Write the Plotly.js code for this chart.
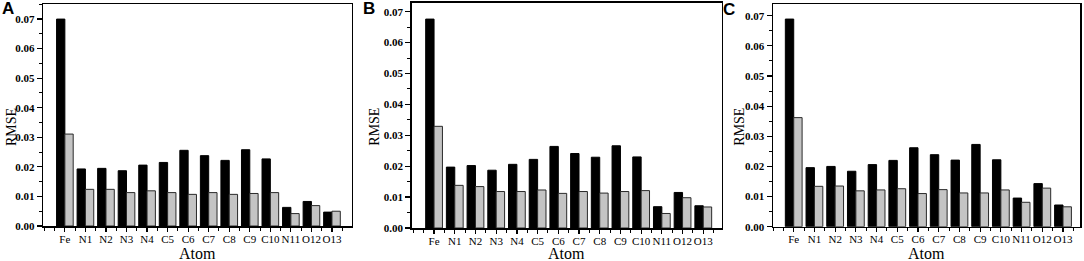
<!DOCTYPE html>
<html>
<head>
<meta charset="utf-8">
<script src="https://cdn.plot.ly/plotly-3.0.1.min.js"></script>
<style>
  html, body { margin: 0; padding: 0; background: #fff; }
  #plot { width: 1084px; height: 261px; }
</style>
</head>
<body>
<div id="plot"></div>
<script>
// atoms on the x axis
const atoms = ['Fe', 'N1', 'N2', 'N3', 'N4', 'C5', 'C6', 'C7', 'C8', 'C9', 'C10', 'N11', 'O12', 'O13'];

// panel A
const rmseA_black = [0.0700, 0.0193, 0.0195, 0.0187, 0.0206, 0.0215, 0.0256, 0.0238, 0.0222, 0.0258, 0.0227, 0.0063, 0.0083, 0.0047];
const rmseA_gray  = [0.0311, 0.0124, 0.0124, 0.0113, 0.0119, 0.0113, 0.0107, 0.0113, 0.0107, 0.0110, 0.0113, 0.0042, 0.0069, 0.0050];

// panel B
const rmseB_black = [0.0676, 0.0197, 0.0202, 0.0187, 0.0206, 0.0222, 0.0264, 0.0241, 0.0229, 0.0266, 0.0230, 0.0069, 0.0115, 0.0072];
const rmseB_gray  = [0.0329, 0.0138, 0.0134, 0.0118, 0.0118, 0.0123, 0.0112, 0.0118, 0.0113, 0.0118, 0.0121, 0.0047, 0.0098, 0.0068];

// panel C
const rmseC_black = [0.0689, 0.0196, 0.0200, 0.0184, 0.0206, 0.0220, 0.0262, 0.0239, 0.0221, 0.0273, 0.0222, 0.0095, 0.0143, 0.0072];
const rmseC_gray  = [0.0362, 0.0134, 0.0135, 0.0119, 0.0122, 0.0126, 0.0110, 0.0123, 0.0112, 0.0112, 0.0122, 0.0081, 0.0128, 0.0066];

const panelLetters = ['A', 'B', 'C'];

const xPos = atoms.map((a, i) => i + 1);
const W = 1084, H = 261;

// plot frames in pixels: left, right, top, bottom (bottom = zero line)
const frames = [
  { l: 43.3, r: 351.7, t: 4, b: 226, ymax: 0.0751, xr: [-0.05, 14.96], rmseX: 11, letter: [7.5, 9] },
  { l: 411.7, r: 721.7, t: 2.7, b: 228, ymax: 0.0729, xr: [-0.08, 14.89], rmseX: 373.7, letter: [368.5, 8.5] },
  { l: 773, r: 1080, t: 4, b: 226.7, ymax: 0.0739, xr: [0, 14.82], rmseX: 738.7, letter: [729, 10] }
];

const series = [[rmseA_black, rmseA_gray], [rmseB_black, rmseB_gray], [rmseC_black, rmseC_gray]];

const serif = 'Liberation Serif';
const traces = [];
const layout = {
  width: W, height: H,
  margin: { l: 0, r: 0, t: 0, b: 0 },
  paper_bgcolor: '#fff', plot_bgcolor: '#fff',
  showlegend: false,
  barmode: 'group', bargap: 0.19, bargroupgap: 0,
  annotations: []
};

frames.forEach((f, k) => {
  const n = k + 1;
  const sfx = n === 1 ? '' : String(n);
  const xs = 'x' + sfx, ys = 'y' + sfx;
  const xd = [f.l / W, f.r / W], yd = [1 - f.b / H, 1 - f.t / H];

  traces.push({
    type: 'bar', x: xPos, y: series[k][0], xaxis: xs, yaxis: ys,
    marker: { color: '#000', line: { color: '#000', width: 1 } }
  });
  traces.push({
    type: 'bar', x: xPos, y: series[k][1], xaxis: xs, yaxis: ys,
    marker: { color: '#c4c4c4', line: { color: '#2a2a2a', width: 1 } }
  });

  layout['xaxis' + sfx] = {
    domain: xd, anchor: ys, range: f.xr,
    tickmode: 'array', tickvals: xPos, ticktext: atoms, tickangle: 0,
    ticks: 'outside', ticklen: 4, tickwidth: 1.2, tickcolor: '#000',
    ticklabelstandoff: -2,
    minor: { tickmode: 'linear', tick0: 0, dtick: 0.5, ticks: 'outside', ticklen: 3, tickcolor: '#000', tickwidth: 1 },
    showline: true, mirror: true, linecolor: '#000', linewidth: 1.5,
    showgrid: false, zeroline: false,
    tickfont: { family: serif, size: 11, color: '#000' }
  };
  layout['yaxis' + sfx] = {
    domain: yd, anchor: xs, range: [0, f.ymax],
    tick0: 0, dtick: 0.01, tickformat: '.2f',
    ticks: 'outside', ticklen: 5, tickwidth: 1.2, tickcolor: '#000',
    minor: { dtick: 0.005, ticks: 'outside', ticklen: 3, tickcolor: '#000', tickwidth: 1 },
    showline: true, mirror: true, linecolor: '#000', linewidth: 1.5,
    showgrid: false, zeroline: false,
    tickfont: { family: serif, size: 11, color: '#000', weight: 'bold' }
  };

  layout.annotations.push({
    text: 'Atom', xref: 'paper', yref: 'paper',
    x: (f.l + f.r) / 2 / W, y: 1 - 253.5 / H, xanchor: 'center', yanchor: 'middle',
    showarrow: false, font: { family: serif, size: 16, color: '#000' }
  });
  layout.annotations.push({
    text: 'RMSE', xref: 'paper', yref: 'paper', textangle: -90,
    x: f.rmseX / W, y: 1 - 127 / H, xanchor: 'center', yanchor: 'middle',
    showarrow: false, font: { family: serif, size: 14, color: '#000' }
  });
  layout.annotations.push({
    text: '<b>' + panelLetters[k] + '</b>', xref: 'paper', yref: 'paper',
    x: f.letter[0] / W, y: 1 - f.letter[1] / H, xanchor: 'center', yanchor: 'middle',
    showarrow: false, font: { family: 'Liberation Sans', size: 17, color: '#000' }
  });
});

Plotly.newPlot('plot', traces, layout, { displayModeBar: false, staticPlot: true });
</script>
</body>
</html>
